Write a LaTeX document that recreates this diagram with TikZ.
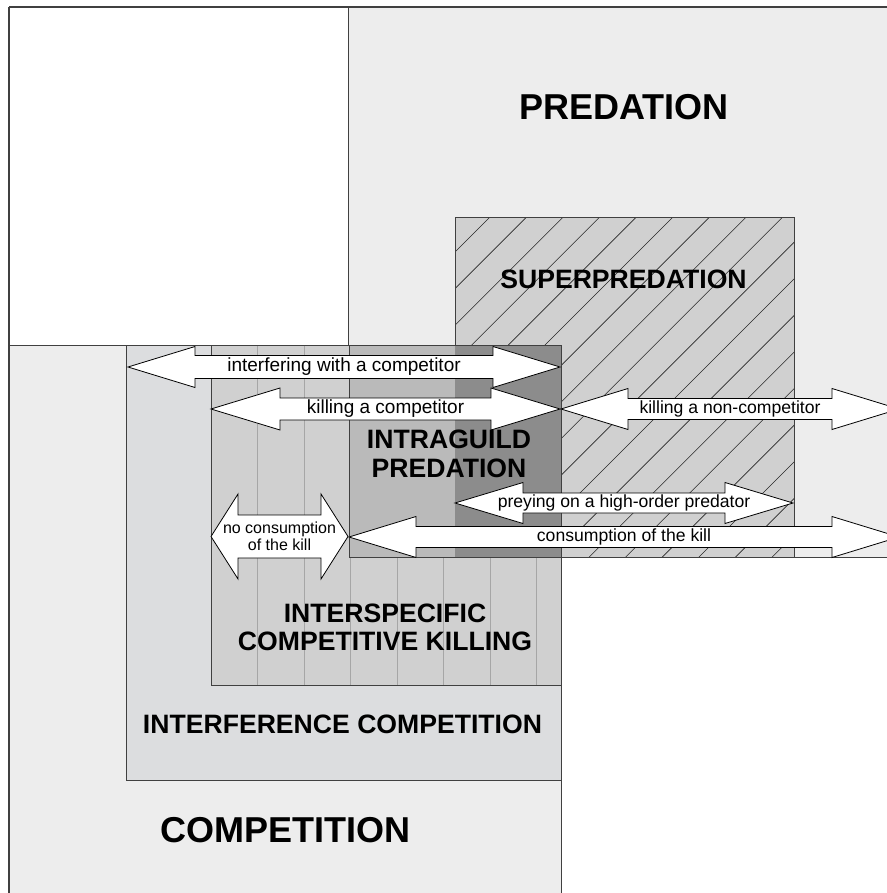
\documentclass[tikz,border=0pt]{standalone}
\usepackage{fontspec}
\setmainfont{Liberation Sans}
\definecolor{pale}{gray}{0.93}
\definecolor{interfill}{RGB}{220,221,223}
\definecolor{killfill}{gray}{0.815}
\definecolor{igplight}{gray}{0.73}
\definecolor{igpdark}{gray}{0.55}
\definecolor{edge}{gray}{0.25}
\tikzstyle{region}=[draw=edge,line width=1pt]
\tikzstyle{hatchline}=[draw=black!85,line width=0.6pt]
\tikzstyle{stripe}=[draw=black!35,line width=1pt]
\tikzstyle{blockarrow}=[draw=black,fill=white,line width=0.8pt,line join=miter]
\tikzstyle{arrowlabel}=[inner sep=0pt,align=center,font=\fontsize{19}{21}\selectfont]
\tikzstyle{arrowlabelnarrow}=[inner sep=0pt,align=center,font=\fontsize{17.6}{20}\selectfont]
\tikzstyle{killlabel}=[inner sep=0pt,align=center,font=\fontsize{16}{17}\selectfont]
\tikzstyle{bigtitle}=[inner sep=0pt,font=\fontsize{36}{40}\selectfont\bfseries]
\tikzstyle{midtitle}=[inner sep=0pt,align=center,font=\fontsize{26.6}{28.5}\selectfont\bfseries]
% [label style] name, x left, x right, y, shaft half, head half, head length, text
\newcommand{\drawDblArrow}[9][arrowlabel]{%
\pgfmathsetmacro{\xmid}{(#3+#4)/2}%
\draw[blockarrow] (#3,#5) -- (#3+#8,#5-#7) -- (#3+#8,#5-#6) -- (#4-#8,#5-#6) -- (#4-#8,#5-#7)
   -- (#4,#5) -- (#4-#8,#5+#7) -- (#4-#8,#5+#6) -- (#3+#8,#5+#6) -- (#3+#8,#5+#7) -- cycle;
\node[#1] (#2) at (\xmid,#5) {#9};%
}
\begin{document}
\begin{tikzpicture}[x=1pt,y=-1pt]
\useasboundingbox (0,0) rectangle (886,893);
% the two big fields
\fill[pale,region] (348,7) rectangle (900,557);
\fill[pale,region] (9,345) rectangle (561,900);
\draw[edge,line width=2pt] (9,7) -- (890,7);
\draw[edge,line width=1.4pt] (9,7) -- (9,900);
% superpredation, hatched
\fill[killfill] (455,218) rectangle (794,557);
\begin{scope}
\clip (455,218) rectangle (794,557);
\foreach \k in {-1,...,18} {
  \draw[hatchline] (489+36.6*\k-400,618) -- (489+36.6*\k+400,-182);
}
\end{scope}
\draw[region] (455,218) rectangle (794,557);
% interference competition
\fill[interfill,region] (126,345) rectangle (561,780);
% interspecific competitive killing, striped
\fill[killfill] (211,345) rectangle (561,685);
\foreach \i in {1,...,7} {
  \draw[stripe] (211+46.5*\i,345) -- (211+46.5*\i,685);
}
\draw[region] (211,345) rectangle (561,685);
% intraguild predation
\fill[igplight] (349,345) rectangle (455,557);
\fill[igpdark] (455,345) rectangle (561,557);
\draw[region] (349,345) rectangle (561,557);
% arrows
\drawDblArrow{interfering}{128}{560}{367}{11.5}{20.5}{67}{interfering with a competitor}
\drawDblArrow{killcomp}{211}{560}{409}{11}{21}{69}{killing a competitor}
\drawDblArrow[arrowlabelnarrow]{killnoncomp}{561}{899}{409}{10.5}{20.5}{67}{killing a non-competitor}
\drawDblArrow[arrowlabelnarrow]{preying}{455}{793}{503}{10}{20.5}{68}{preying on a high-order predator}
\drawDblArrow[arrowlabelnarrow]{consumption}{349}{899}{537}{10.5}{20.5}{67}{consumption of the kill}
\drawDblArrow[killlabel]{noconsumption}{211}{348}{536.5}{21.5}{42.5}{27}{no consumption\\of the kill}
% titles
\node[bigtitle] (predation) at (624,107) {PREDATION};
\node[bigtitle] (competition) at (285.5,830.5) {COMPETITION};
\node[midtitle] (superpred) at (623.5,279) {SUPERPREDATION};
\node[midtitle] (igp) at (449,454) {INTRAGUILD\\PREDATION};
\node[midtitle] (ick) at (385,627.5) {INTERSPECIFIC\\COMPETITIVE KILLING};
\node[midtitle] (interference) at (342.5,724) {INTERFERENCE COMPETITION};
\end{tikzpicture}
\end{document}
